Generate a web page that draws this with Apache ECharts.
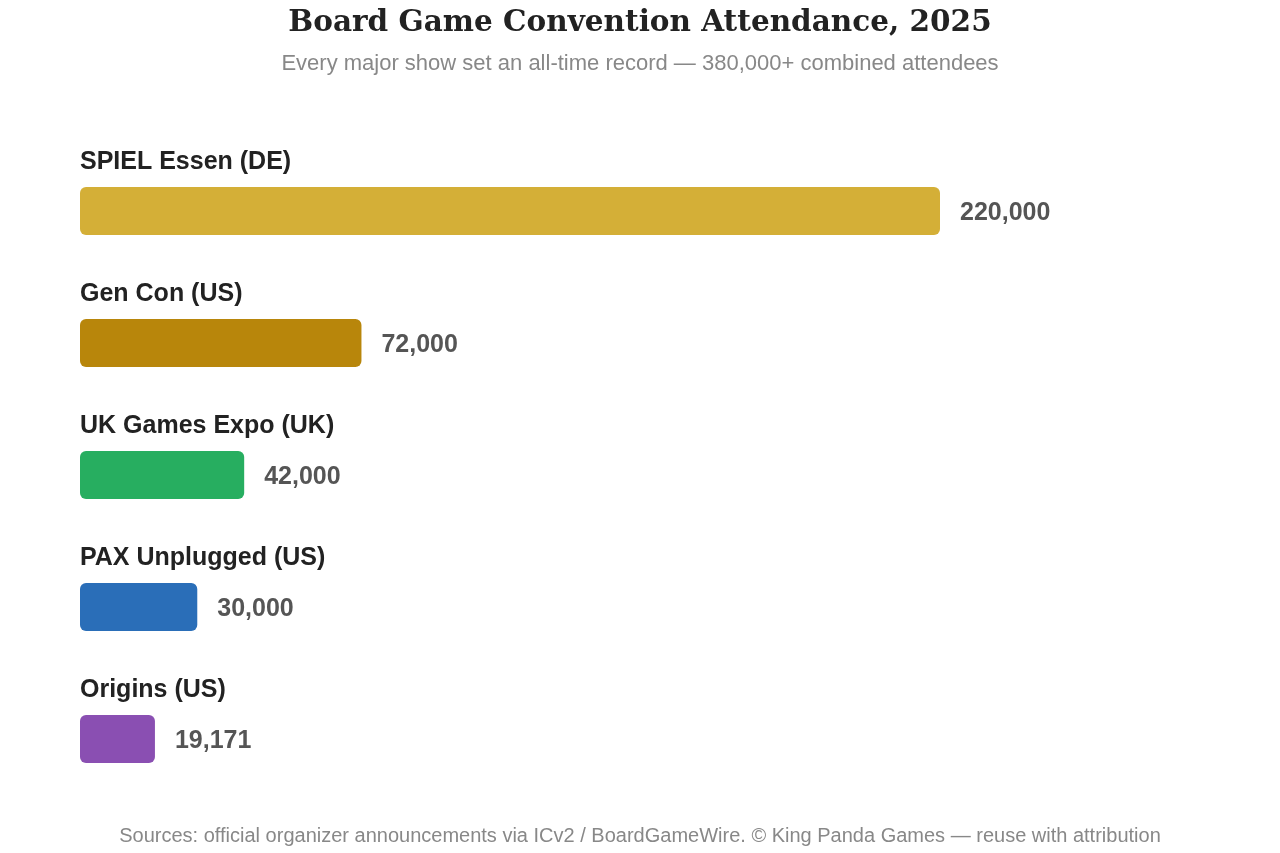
<!DOCTYPE html>
<html><head><meta charset="utf-8">
<script src="https://cdn.jsdelivr.net/npm/echarts@6/dist/echarts.min.js"></script>
<style>html,body{margin:0;padding:0;background:#fff}#c{width:1280px;height:853px}</style>
</head><body><div id="c"></div>
<script>
const categories = ['SPIEL Essen (DE)', 'Gen Con (US)', 'UK Games Expo (UK)', 'PAX Unplugged (US)', 'Origins (US)'];
const attendance = [220000, 72000, 42000, 30000, 19171];
const barColors = ['#D4AF37', '#B8860B', '#27AE60', '#2A6EB8', '#8A4FB2'];
const titleText = 'Board Game Convention Attendance, 2025';
const subtitleText = 'Every major show set an all-time record \u2014 380,000+ combined attendees';
const footerText = 'Sources: official organizer announcements via ICv2 / BoardGameWire. \u00A9 King Panda Games \u2014 reuse with attribution';

const chart = echarts.init(document.getElementById('c'), null, {renderer: 'canvas'});
const fmt = v => v.toLocaleString('en-US');
chart.setOption({
  animation: false,
  backgroundColor: '#fff',
  title: {
    text: titleText,
    subtext: subtitleText,
    left: 'center', top: 3,
    itemGap: 15,
    textStyle: {fontFamily: 'DejaVu Serif', fontWeight: 'bold', fontSize: 29.5, color: '#222'},
    subtextStyle: {fontFamily: 'Liberation Sans', fontSize: 22, color: '#888'}
  },
  graphic: [{
    type: 'text', left: 'center', top: 826,
    style: {text: footerText, fontFamily: 'Liberation Sans', fontSize: 20, fill: '#888'}
  }],
  grid: {left: 80, right: 340, top: 145, bottom: 48},
  xAxis: {type: 'value', min: 0, max: 220000, show: false},
  yAxis: {type: 'category', data: categories, inverse: true, show: false},
  series: [{
    type: 'bar',
    data: attendance.map((v, i) => ({value: v, itemStyle: {color: barColors[i]}})),
    barWidth: 48,
    itemStyle: {borderRadius: 6},
    label: {
      show: true, position: 'right', distance: 20, offset: [0, 2],
      formatter: p => fmt(p.value),
      fontFamily: 'Liberation Sans', fontWeight: 'bold', fontSize: 25, color: '#555'
    },
    z: 3
  }, {
    type: 'bar',
    data: attendance,
    barWidth: 48,
    barGap: '-100%',
    itemStyle: {color: 'rgba(0,0,0,0)'},
    label: {
      show: true, position: [0, -25], align: 'left', verticalAlign: 'middle',
      formatter: p => p.name,
      fontFamily: 'Liberation Sans', fontWeight: 'bold', fontSize: 25, color: '#222'
    },
    silent: true, z: 2
  }]
});
</script></body></html>
